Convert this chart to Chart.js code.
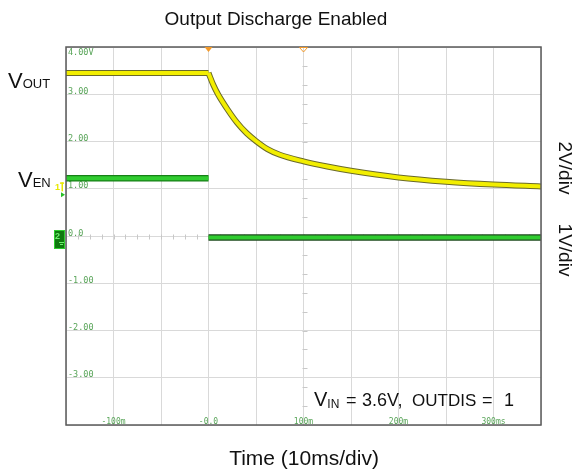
<!DOCTYPE html>
<html>
<head>
<meta charset="UTF-8">
<title>Output Discharge Enabled</title>
<script src="https://cdn.jsdelivr.net/npm/chart.js"></script>
<style>
    body { margin: 0; padding: 0; background: #ffffff; }
    canvas { display: block; }
</style>
</head>
<body>
<canvas id="scope" width="576" height="471"></canvas>
<script>
    // time axis in ms, voltages on the 1 V/div screen scale
    const voutFlatTime = [-150, 0];
    const voutFlatLevel = [3.45, 3.45];
    const voutDecayTime = [0, 5, 10, 20, 30, 40, 50, 62, 75, 100, 125, 150, 200, 250, 300, 350];
    const voutDecayLevel = [3.45, 3.20, 3.00, 2.68, 2.40, 2.18, 2.01, 1.84, 1.72, 1.58, 1.47, 1.38, 1.24, 1.15, 1.09, 1.05];

    const venHighTime = [-150, 0];
    const venHighLevel = [1.22, 1.22];
    const venLowTime = [0, 350];
    const venLowLevel = [-0.03, -0.03];

    const yTickValues = [4, 3, 2, 1, 0, -1, -2, -3];
    const yTickLabels = ['4.00V', '3.00', '2.00', '1.00', '0.0', '-1.00', '-2.00', '-3.00'];
    const xTickValues = [-100, 0, 100, 200, 300];
    const xTickLabels = ['-100m', '-0.0', '100m', '200m', '300ms'];

    function pts(xs, ys) {
        return xs.map((x, i) => ({ x: x, y: ys[i] }));
    }

    function trace(data, color, width, order) {
        return {
            data: data,
            borderColor: color,
            borderWidth: width,
            pointRadius: 0,
            fill: false,
            cubicInterpolationMode: 'monotone',
            borderCapStyle: 'butt',
            borderJoinStyle: 'round',
            order: order
        };
    }

    const SANS = '"Liberation Sans", Arial, sans-serif';
    const MONO = '"DejaVu Sans Mono", monospace';
    const scopeGreen = '#58a458';

    // V with a small-caps style suffix sitting near the baseline
    function subLabel(ctx, x, y, main, sub, mainSize, subSize, drop) {
        ctx.font = mainSize + 'px ' + SANS;
        ctx.fillText(main, x, y);
        const w = ctx.measureText(main).width;
        ctx.font = subSize + 'px ' + SANS;
        ctx.fillText(sub, x + w, y + drop);
    }

    const scopeDecor = {
        id: 'scopeDecor',
        beforeDatasetsDraw(chart) {
            const ctx = chart.ctx;
            const xs = chart.scales.x, ys = chart.scales.y;
            const area = chart.chartArea;
            ctx.save();

            // minor ticks on the centre cross
            ctx.strokeStyle = '#c8c8c8';
            ctx.lineWidth = 1;
            const y0 = Math.round(ys.getPixelForValue(0)) + 0.5;
            for (let t = -150; t <= 350; t += 12.5) {
                const px = Math.round(xs.getPixelForValue(t)) + 0.5;
                ctx.beginPath(); ctx.moveTo(px, y0 - 2); ctx.lineTo(px, y0 + 3); ctx.stroke();
            }
            const xc = Math.round(xs.getPixelForValue(100)) + 0.5;
            for (let v = -4; v <= 4.001; v += 0.4) {
                const py = Math.round(ys.getPixelForValue(v)) + 0.5;
                ctx.beginPath(); ctx.moveTo(xc - 2, py); ctx.lineTo(xc + 3, py); ctx.stroke();
            }

            // readouts printed inside the screen
            ctx.fillStyle = scopeGreen;
            ctx.font = '8.5px ' + MONO;
            ctx.textAlign = 'left';
            ctx.textBaseline = 'alphabetic';
            yTickValues.forEach((v, i) => {
                let py = ys.getPixelForValue(v) - 0.5;
                if (v === 4) py = area.top + 8;
                ctx.fillText(yTickLabels[i], area.left + 2, py);
            });
            ctx.font = '8px ' + MONO;
            ctx.textAlign = 'center';
            xTickValues.forEach((t, i) => {
                ctx.fillText(xTickLabels[i], xs.getPixelForValue(t), area.bottom - 1.5);
            });
            ctx.restore();
        },
        afterDraw(chart) {
            const ctx = chart.ctx;
            const xs = chart.scales.x, ys = chart.scales.y;
            const area = chart.chartArea;
            ctx.save();

            // screen frame
            ctx.strokeStyle = '#5a5a5a';
            ctx.lineWidth = 1.5;
            ctx.strokeRect(area.left, area.top, area.right - area.left, area.bottom - area.top);

            // trigger markers along the top edge
            const tx = xs.getPixelForValue(0);
            ctx.fillStyle = '#f39a2a';
            ctx.beginPath();
            ctx.moveTo(tx - 4, area.top); ctx.lineTo(tx + 4, area.top); ctx.lineTo(tx, area.top + 5);
            ctx.closePath(); ctx.fill();
            const hx = xs.getPixelForValue(100);
            ctx.strokeStyle = '#f39a2a';
            ctx.lineWidth = 1;
            ctx.beginPath();
            ctx.moveTo(hx - 4, area.top + 0.5); ctx.lineTo(hx + 4, area.top + 0.5); ctx.lineTo(hx, area.top + 5);
            ctx.closePath(); ctx.stroke();

            // channel 1 ground marker
            const m1 = ys.getPixelForValue(venHighLevel[0]) + 12;
            ctx.fillStyle = '#e8e800';
            ctx.font = 'bold 9px ' + SANS;
            ctx.textAlign = 'left';
            ctx.fillText('1', area.left - 11, m1);
            ctx.fillRect(area.left - 6, m1 - 8, 4, 1.5);
            ctx.fillRect(area.left - 4.5, m1 - 8, 1.5, 9);
            ctx.fillStyle = '#27c027';
            ctx.beginPath();
            ctx.moveTo(area.left - 5, m1 + 2); ctx.lineTo(area.left - 1, m1 + 4.5); ctx.lineTo(area.left - 5, m1 + 7);
            ctx.closePath(); ctx.fill();

            // channel 2 ground marker
            const m2 = ys.getPixelForValue(0);
            ctx.fillStyle = '#0e7a0e';
            ctx.fillRect(area.left - 12, m2 - 6, 11, 19);
            ctx.strokeStyle = '#2ed02e';
            ctx.lineWidth = 1;
            ctx.strokeRect(area.left - 11.5, m2 - 5.5, 10, 18);
            ctx.fillStyle = '#6ff06f';
            ctx.font = 'bold 9px ' + SANS;
            ctx.fillText('2', area.left - 11, m2 + 3);
            ctx.fillRect(area.left - 7, m2 + 6, 5, 1);
            ctx.fillRect(area.left - 6, m2 + 8, 3, 1);

            // labels outside the screen
            ctx.fillStyle = '#111111';
            ctx.textAlign = 'center';
            ctx.font = '19px ' + SANS;
            ctx.fillText('Output Discharge Enabled', 276, 25);
            ctx.font = '21px ' + SANS;
            ctx.fillText('Time (10ms/div)', 304, 465);

            ctx.textAlign = 'left';
            subLabel(ctx, 8, 88, 'V', 'OUT', 22, 13, 0);
            subLabel(ctx, 18, 187, 'V', 'EN', 22, 13, 0);

            // conditions readout
            subLabel(ctx, 314, 406, 'V', 'IN', 20, 12, 1.5);
            ctx.font = '18px ' + SANS;
            ctx.fillText('=', 346, 406);
            ctx.fillText('3.6V,', 362, 406);
            ctx.font = '17px ' + SANS;
            ctx.fillText('OUTDIS', 412, 406);
            ctx.font = '18px ' + SANS;
            ctx.fillText('=', 482, 406);
            ctx.fillText('1', 504, 406);

            // per-channel scale, read top to bottom
            ctx.font = '19px ' + SANS;
            ctx.textAlign = 'center';
            ctx.textBaseline = 'middle';
            [['2V/div', 168], ['1V/div', 250]].forEach(([txt, cy]) => {
                ctx.save();
                ctx.translate(564, cy);
                ctx.rotate(Math.PI / 2);
                ctx.fillText(txt, 0, 0);
                ctx.restore();
            });
            ctx.restore();
        }
    };

    const voutFlat = pts(voutFlatTime, voutFlatLevel);
    const voutDecay = pts(voutDecayTime, voutDecayLevel);
    const venHigh = pts(venHighTime, venHighLevel);
    const venLow = pts(venLowTime, venLowLevel);

    new Chart(document.getElementById('scope').getContext('2d'), {
        type: 'line',
        data: {
            datasets: [
                trace(voutFlat, '#f2ee00', 4, 1),
                trace(voutDecay, '#f2ee00', 4, 1),
                trace(voutFlat, '#6a6a2a', 6, 2),
                trace(voutDecay, '#6a6a2a', 6, 2),
                trace(venHigh, '#30cc30', 4, 3),
                trace(venHigh, '#178017', 6.5, 4),
                trace(venLow, '#30cc30', 4, 3),
                trace(venLow, '#1d4a1d', 6.5, 4)
            ]
        },
        options: {
            responsive: false,
            animation: false,
            devicePixelRatio: 1,
            layout: { padding: { left: 66, right: 35, top: 47, bottom: 46 } },
            plugins: { legend: { display: false }, tooltip: { enabled: false } },
            scales: {
                x: {
                    type: 'linear', min: -150, max: 350,
                    ticks: { display: false, stepSize: 50 },
                    grid: { color: '#d9d9d9', drawTicks: false },
                    border: { display: false }
                },
                y: {
                    min: -4, max: 4,
                    ticks: { display: false, stepSize: 1 },
                    grid: { color: '#d9d9d9', drawTicks: false },
                    border: { display: false }
                }
            }
        },
        plugins: [scopeDecor]
    });
</script>
</body>
</html>
